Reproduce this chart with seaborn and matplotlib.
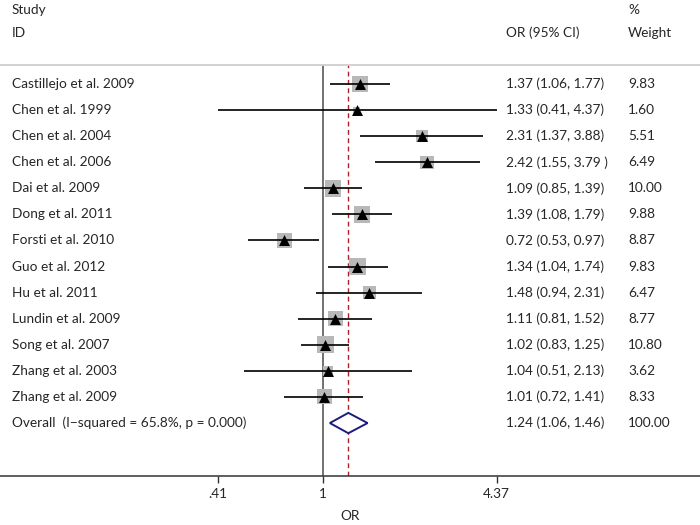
import numpy as np
import pandas as pd
import seaborn as sns
import matplotlib
matplotlib.use("Agg")
import matplotlib.pyplot as plt
from matplotlib.transforms import blended_transform_factory
from matplotlib.patches import Polygon
from matplotlib.ticker import NullLocator

studies = ["Castillejo et al. 2009", "Chen et al. 1999", "Chen et al. 2004", "Chen et al. 2006",
           "Dai et al. 2009", "Dong et al. 2011", "Forsti et al. 2010", "Guo et al. 2012",
           "Hu et al. 2011", "Lundin et al. 2009", "Song et al. 2007", "Zhang et al. 2003",
           "Zhang et al. 2009"]
or_vals = [1.37, 1.33, 2.31, 2.42, 1.09, 1.39, 0.72, 1.34, 1.48, 1.11, 1.02, 1.04, 1.01]
ci_low = [1.06, 0.41, 1.37, 1.55, 0.85, 1.08, 0.53, 1.04, 0.94, 0.81, 0.83, 0.51, 0.72]
ci_high = [1.77, 4.37, 3.88, 3.79, 1.39, 1.79, 0.97, 1.74, 2.31, 1.52, 1.25, 2.13, 1.41]
weights = [9.83, 1.60, 5.51, 6.49, 10.00, 9.88, 8.87, 9.83, 6.47, 8.77, 10.80, 3.62, 8.33]
or_text = ["1.37 (1.06, 1.77)", "1.33 (0.41, 4.37)", "2.31 (1.37, 3.88)", "2.42 (1.55, 3.79 )",
           "1.09 (0.85, 1.39)", "1.39 (1.08, 1.79)", "0.72 (0.53, 0.97)", "1.34 (1.04, 1.74)",
           "1.48 (0.94, 2.31)", "1.11 (0.81, 1.52)", "1.02 (0.83, 1.25)", "1.04 (0.51, 2.13)",
           "1.01 (0.72, 1.41)"]
weight_text = ["9.83", "1.60", "5.51", "6.49", "10.00", "9.88", "8.87", "9.83", "6.47", "8.77",
               "10.80", "3.62", "8.33"]

overall_label = "Overall  (I\u2212squared = 65.8%, p = 0.000)"
overall_or, overall_lo, overall_hi = 1.24, 1.06, 1.46
overall_or_text = "1.24 (1.06, 1.46)"
overall_weight_text = "100.00"

tick_vals = [0.41, 1, 4.37]
tick_labels = [".41", "1", "4.37"]

sns.set_theme(style="white")
plt.rcParams['font.family'] = ['Lato', 'DejaVu Sans']
FS = 9.8

W, H = 700, 525
fig = plt.figure(figsize=(7, 5.25), dpi=100)
top_px, bot_px = 65, 476
ax = fig.add_axes([0, 1 - bot_px / H, 1, (bot_px - top_px) / H])

row0, dy = 84.0, 26.08
n = len(studies)
rows = np.arange(n)
overall_row = n

df = pd.DataFrame({"study": studies, "or": or_vals, "lo": ci_low, "hi": ci_high,
                   "weight": weights, "row": rows})

# weighted grey squares (area proportional to weight)
sns.scatterplot(data=df, x="or", y="row", size="weight", sizes=(1.6 * 14, 10.8 * 14),
                size_norm=(1.6, 10.8), marker="s", color="#b8b8b8", linewidth=0,
                legend=False, ax=ax, zorder=2)
# CI lines
ax.hlines(df["row"], df["lo"], df["hi"], color="black", lw=1.2, zorder=3)
# point estimates
sns.scatterplot(data=df, x="or", y="row", marker="^", s=62, color="black", linewidth=0,
                legend=False, ax=ax, zorder=4)

# overall diamond
hh = 0.39
diamond = Polygon([(overall_lo, overall_row), (overall_or, overall_row - hh),
                   (overall_hi, overall_row), (overall_or, overall_row + hh)],
                  closed=True, facecolor="white", edgecolor="#1c1c80", lw=1.4, zorder=4)
ax.add_patch(diamond)

ax.axvline(1, color="#4a4a4a", lw=1.1, zorder=1)
ax.axvline(overall_or, color="#b0202a", lw=1.0, ls=(0, (3.5, 2.5)), zorder=1)

ax.set_xscale("log")
ppl = 117.8
ax.set_xlim(np.exp(-323 / ppl), np.exp((W - 323) / ppl))
ax.set_ylim((bot_px - row0) / dy, (top_px - row0) / dy)
ax.set_xticks(tick_vals)
ax.set_xticklabels(tick_labels)
ax.xaxis.set_minor_locator(NullLocator())
ax.set_yticks([])
ax.tick_params(axis="x", direction="out", length=5, width=1, color="#333333",
               labelsize=FS, pad=4, bottom=True)
ax.set_xlabel("OR", fontsize=FS, labelpad=7)
ax.set_ylabel("")

for s in ["left", "right"]:
    ax.spines[s].set_visible(False)
ax.spines["top"].set_color("#cfcfcf")
ax.spines["top"].set_linewidth(1.3)
ax.spines["bottom"].set_color("#333333")
ax.spines["bottom"].set_linewidth(1.1)

tr = blended_transform_factory(fig.transFigure, ax.transData)
x_lab, x_or, x_w = 12 / W, 506 / W, 628 / W
for i in range(n):
    ax.text(x_lab, i, studies[i], transform=tr, ha="left", va="center", fontsize=FS)
    ax.text(x_or, i, or_text[i], transform=tr, ha="left", va="center", fontsize=FS)
    ax.text(x_w, i, weight_text[i], transform=tr, ha="left", va="center", fontsize=FS)
ax.text(x_lab, overall_row, overall_label, transform=tr, ha="left", va="center", fontsize=FS)
ax.text(x_or, overall_row, overall_or_text, transform=tr, ha="left", va="center", fontsize=FS)
ax.text(x_w, overall_row, overall_weight_text, transform=tr, ha="left", va="center", fontsize=FS)

def ftext(x, y, s):
    fig.text(x / W, 1 - y / H, s, ha="left", va="center", fontsize=FS)

ftext(12, 10, "Study")
ftext(12, 33, "ID")
ftext(506, 33, "OR (95% CI)")
ftext(628, 10, "%")
ftext(628, 33, "Weight")

fig.savefig("out.png", dpi=100)
